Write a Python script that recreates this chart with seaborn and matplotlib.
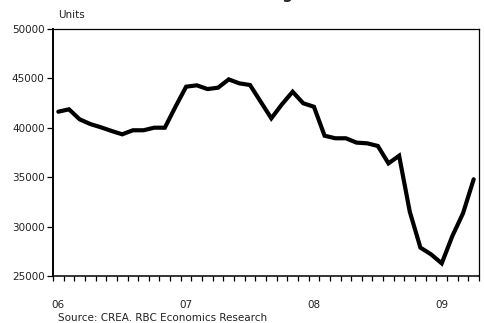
import numpy as np
import pandas as pd
import matplotlib
matplotlib.use("Agg")
import matplotlib.pyplot as plt
import seaborn as sns

# Monthly resale units, Jan 2006 - Apr 2009
months = list(range(40))
units = [41630, 41870, 40860, 40380, 40050, 39680, 39340, 39750, 39750, 40010,
         40010, 42130, 44160, 44300, 43920, 44060, 44900, 44500, 44330, 42640,
         40960, 42380, 43650, 42480, 42130, 39200, 38940, 38940, 38500, 38430,
         38160, 36400, 37170, 31510, 27870, 27190, 26280, 29050, 31350, 34790]
year_labels = ["06", "07", "08", "09"]
year_positions = [0, 12, 24, 36]
y_ticks = [25000, 30000, 35000, 40000, 45000, 50000]

df = pd.DataFrame({"month": months, "units": units})

sns.set_style("white")
plt.rcParams["font.family"] = ["DejaVu Sans"]

fig = plt.figure(figsize=(4.85, 3.23), dpi=100)
ax = fig.add_axes([53 / 485, 47 / 323, 426 / 485, 247 / 323])

sns.lineplot(data=df, x="month", y="units", ax=ax, color="black",
             linewidth=3.0, solid_joinstyle="miter")

ax.set_xlim(-0.5, 39.5)
ax.set_ylim(25000, 50000)
ax.set_yticks(y_ticks)
ax.set_yticklabels([str(v) for v in y_ticks], fontsize=7.5, color="#222222")

ax.set_xticks(year_positions)
ax.set_xticklabels(year_labels, fontsize=7.5, color="#222222")
ax.set_xticks(np.arange(-0.5, 40, 1), minor=True)
ax.tick_params(axis="x", which="major", length=0, pad=17)
ax.tick_params(axis="x", which="minor", direction="out", length=3.5,
               width=0.9, color="black", bottom=True)
ax.tick_params(axis="y", which="major", direction="out", length=4,
               width=0.9, color="black", left=True, pad=2)

for side, spine in ax.spines.items():
    spine.set_visible(True)
    spine.set_color("black")
    spine.set_linewidth(0.9)
ax.spines["left"].set_linewidth(1.4)
ax.spines["bottom"].set_linewidth(1.1)

ax.set_xlabel("")
ax.set_ylabel("")

fig.text(293 / 485, 1 + 1.5 / 323, "Resale Housing", ha="right", va="baseline",
         fontsize=11, fontweight="bold")
fig.text(58 / 485, 1 - 15 / 323, "Units", ha="left", va="center",
         fontsize=7.5, color="#222222")
fig.text(58 / 485, 1 - 318 / 323, "Source: CREA. RBC Economics Research",
         ha="left", va="center", fontsize=7.5, color="#222222")

fig.savefig("out.png", dpi=100)
